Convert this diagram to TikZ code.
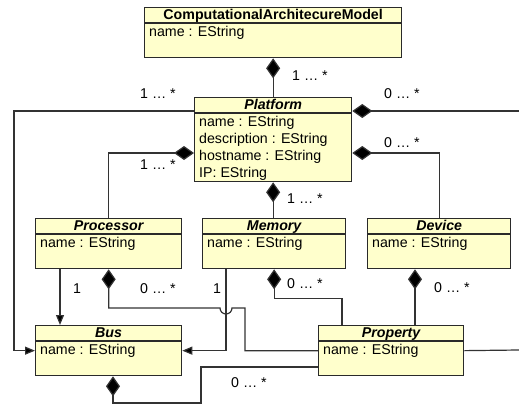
\documentclass[tikz,border=0pt]{standalone}
\usepackage{fontspec}
\setmainfont{Liberation Sans}
\usetikzlibrary{arrows.meta,calc}
\definecolor{classfill}{HTML}{FFFFCC}
\definecolor{bordercol}{HTML}{2A2A2A}
\definecolor{linecol}{HTML}{333333}
\newcommand\bodysize{\fontsize{14.2}{17}\selectfont}
\tikzset{
  cls/.style={draw=bordercol, fill=classfill, line width=1.3pt, rectangle, inner sep=0pt, anchor=north west},
  ttl/.style={anchor=north, inner sep=0pt, minimum height=16pt, text height=10.5pt, text depth=3pt},
  attr/.style={anchor=north west, align=left, inner sep=0pt},
  sepline/.style={draw=bordercol, line width=1.3pt},
  conn/.style={draw=linecol, line width=1.2pt},
  comp/.style={conn, {Diamond[length=20pt,width=14pt,fill=black]}-},
  assoc/.style={conn, -{Triangle[length=10pt,width=8pt,fill=black]}},
  mult/.style={inner sep=0pt, text height=10pt, text depth=2pt}
}
\newcommand\umlclass[8]{%
  \node[cls, minimum width=#4pt, minimum height=#5pt] (#1) at (#2,#3) {};
  \node[ttl, font={\bodysize#8}] (#1-t) at ([yshift=-0.5pt]#1.north) {#6};
  \draw[sepline] ([yshift=-16pt]#1.north west) -- ([yshift=-16pt]#1.north east);
  \node[attr] (#1-a) at ([xshift=5pt,yshift=-17.5pt]#1.north west) {#7};
}
\begin{document}
\begin{tikzpicture}[x=1pt,y=-1pt,font=\bodysize]
\useasboundingbox (0,0) rectangle (519,409);
\clip (0,0) rectangle (519,409);

\umlclass{cam}{144}{7}{257}{50}{ComputationalArchitecureModel}{\strut name : EString}{\bfseries}
\umlclass{platform}{194}{97}{157}{84}{Platform}{\strut name : EString\\description : EString\\hostname : EString\\IP: EString}{\bfseries\itshape}
\umlclass{processor}{35}{218}{146}{50}{Processor}{\strut name : EString}{\bfseries\itshape}
\umlclass{memory}{202}{218}{143}{50}{Memory}{\strut name : EString}{\bfseries\itshape}
\umlclass{device}{367}{218}{143}{50}{Device}{\strut name : EString}{\bfseries\itshape}
\umlclass{bus}{35}{325}{146}{50}{Bus}{\strut name : EString}{\bfseries\itshape}
\umlclass{property}{318}{325}{145}{50}{Property}{\strut name : EString}{\bfseries\itshape}

\coordinate (redge1) at (519,111);
\coordinate (redge2) at (519,350);
\coordinate (hopL) at (220,308);
\coordinate (hopR) at (245,308);
\coordinate (loopA) at (201,403);

% CAM -> Platform
\draw[comp] (cam.south) -- (platform.north);
\node[mult] (m1) at (310,77) {1 … *};
% Platform -> Bus (left)
\draw[assoc] ([yshift=-14pt]platform.north west) -| ([xshift=-21pt]bus.west) -- (bus.west);
\node[mult] (m2) at (158,95) {1 … *};
% Platform -> right edge
\draw[comp] ([yshift=-14pt]platform.north east) -- (redge1);
\node[mult] (m3) at (402,95) {0 … *};
% Platform -> Processor
\draw[comp] ([yshift=-56pt]platform.north west) -| (processor.north);
\node[mult] (m4) at (158,165) {1 … *};
% Platform -> Device
\draw[comp] ([yshift=-56pt]platform.north east) -| (device.north);
\node[mult] (m5) at (402,143) {0 … *};
% Platform -> Memory
\draw[comp] (platform.south) -- (platform.south |- memory.north);
\node[mult] (m6) at (305,199) {1 … *};
% Processor -> Bus
\draw[assoc] ([xshift=25pt]processor.south west) -- ([xshift=25pt]bus.north west);
\node[mult] (m7) at (77,289) {1};
% Processor -> Property
\draw[comp] (processor.south) |- (hopL) arc[start angle=180, end angle=360, radius=6pt] -- (hopR) |- (property.west);
\node[mult] (m8) at (158,289) {0 … *};
% Memory -> Bus
\draw[assoc] ([xshift=24pt]memory.south west) |- (bus.east);
\node[mult] (m9) at (217,289) {1};
% Memory -> Property
\draw[comp] (memory.south) -- ++(0,29) -| ([xshift=24pt]property.north west);
\node[mult] (m10) at (305,284) {0 … *};
% Device -> Property
\draw[comp] ([xshift=48pt]device.south west) -- ([xshift=97pt]property.north west);
\node[mult] (m11) at (452,288) {0 … *};
% Property -> right edge
\draw[conn] (property.east) -- (redge2);
% Bus -> Property
\draw[comp] ([xshift=78pt]bus.south west) |- (loopA) |- ([yshift=-42pt]property.north west);
\node[mult] (m12) at (249,383) {0 … *};
\end{tikzpicture}
\end{document}
